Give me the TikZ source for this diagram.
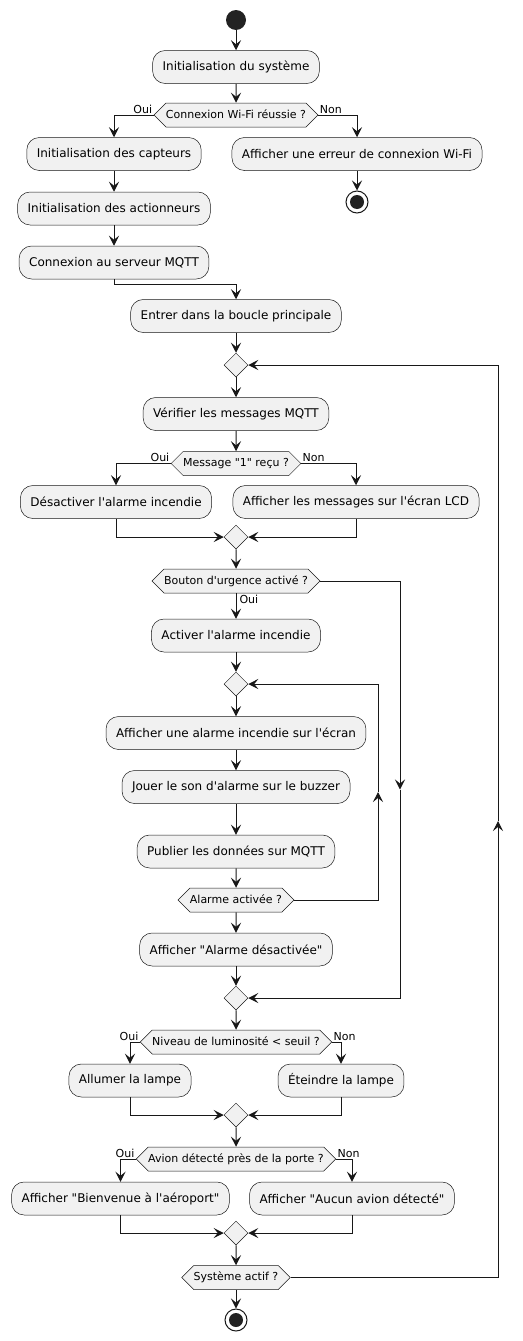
\documentclass[tikz,border=0pt]{standalone}
\usepackage{fontspec}
\newfontfamily\umlfont{DejaVu Sans}
\usetikzlibrary{calc, shapes.geometric, shapes.symbols, arrows.meta}
\definecolor{linecol}{HTML}{181818}
\definecolor{boxfill}{HTML}{F1F1F1}
\definecolor{dotcol}{HTML}{222222}

\begin{document}
\begin{tikzpicture}[x=1pt, y=-1pt, >={Stealth[length=10pt, width=10pt, inset=4pt]}]

    \tikzstyle{activity}=[rectangle, rounded corners=12.5pt, draw=linecol, line width=0.5pt, fill=boxfill, inner xsep=10pt, minimum height=33pt, font=\umlfont\fontsize{12}{14}\selectfont];
    \tikzstyle{decision}=[signal, signal to=west and east, signal pointer angle=90, draw=linecol, line width=0.5pt, fill=boxfill, inner xsep=0pt, inner ysep=6.5pt, text height=8.5pt, text depth=2.5pt, font=\umlfont\fontsize{11}{13}\selectfont];
    \tikzstyle{merge}=[diamond, draw=linecol, line width=0.5pt, fill=boxfill, minimum width=24pt, minimum height=24pt, inner sep=0pt];
    \tikzstyle{start}=[circle, fill=dotcol, minimum size=20pt, inner sep=0pt];
    \tikzstyle{stop}=[circle, draw=linecol, line width=1pt, fill=white, minimum size=22pt, inner sep=0pt, path picture={\fill[dotcol] (path picture bounding box.center) circle (7pt);}];
    \tikzstyle{guard}=[font=\umlfont\fontsize{11}{13}\selectfont, inner sep=1pt];
    \tikzstyle{flow}=[->, line width=1pt, draw=linecol];

    \useasboundingbox (0,0) rectangle (522,1341);

    % initialisation
    \node[start] (start) at (236,20) {};
    \node[activity] (initsys) at (236,67) {Initialisation du système};
    \node[decision] (wifi) at (236,115) {Connexion Wi-Fi réussie ?};
    \node[activity] (capteurs) at (114,154) {Initialisation des capteurs};
    \node[activity] (erreur) at (357,154) {Afficher une erreur de connexion Wi-Fi};
    \node[stop] (stopwifi) at (357,202) {};
    \node[activity] (actionneurs) at (114,208.5) {Initialisation des actionneurs};
    \node[activity] (mqtt) at (114,262.5) {Connexion au serveur MQTT};
    \node[activity] (boucle) at (236,316) {Entrer dans la boucle principale};

    % boucle principale
    \node[merge] (mloop) at (236,365) {};
    \node[activity] (verif) at (236,414) {Vérifier les messages MQTT};
    \node[decision] (msg) at (236,463.5) {Message "1" reçu ?};
    \node[activity] (desact) at (116,502) {Désactiver l'alarme incendie};
    \node[activity] (lcd) at (356,502) {Afficher les messages sur l'écran LCD};
    \node[merge] (mmsg) at (236,537) {};

    % alarme
    \node[decision] (bouton) at (236,581) {Bouton d'urgence activé ?};
    \node[activity] (activer) at (236,635.5) {Activer l'alarme incendie};
    \node[merge] (malarm) at (236,684) {};
    \node[activity] (ecran) at (236,733) {Afficher une alarme incendie sur l'écran};
    \node[activity] (buzzer) at (236,787) {Jouer le son d'alarme sur le buzzer};
    \node[activity] (publier) at (236,851.5) {Publier les données sur MQTT};
    \node[decision] (alarme) at (236,900) {Alarme activée ?};
    \node[activity] (desactivee) at (236,949.5) {Afficher "Alarme désactivée"};
    \node[merge] (mbouton) at (236,998) {};

    % lampe
    \node[decision] (lum) at (236,1042) {Niveau de luminosité < seuil ?};
    \node[activity] (allumer) at (130,1080.5) {Allumer la lampe};
    \node[activity] (eteindre) at (341,1080.5) {Éteindre la lampe};
    \node[merge] (mlum) at (236,1115) {};

    % avion
    \node[decision] (avion) at (236,1159) {Avion détecté près de la porte ?};
    \node[activity] (bienvenue) at (120.5,1198.5) {Afficher "Bienvenue à l'aéroport"};
    \node[activity] (aucun) at (352,1198.5) {Afficher "Aucun avion détecté"};
    \node[merge] (mavion) at (236,1233) {};
    \node[decision] (actif) at (236,1277.5) {Système actif ?};
    \node[stop] (stop) at (236,1320) {};

    % points des retours
    \coordinate (bmid) at (400,789.5);
    \coordinate (amid) at (378,792);
    \coordinate (lmid) at (498,821);

    \draw[flow] (start) -- (initsys);
    \draw[flow] (initsys) -- (wifi);
    \draw[flow] (wifi.west) -| node[guard, pos=0, anchor=south east] {Oui} (capteurs.north);
    \draw[flow] (wifi.east) -| node[guard, pos=0, anchor=south west] {Non} (erreur.north);
    \draw[flow] (erreur) -- (stopwifi);
    \draw[flow] (capteurs) -- (actionneurs);
    \draw[flow] (actionneurs) -- (mqtt);
    \draw[flow] (mqtt.south) -- ++(0,5) -| (boucle.north);
    \draw[flow] (boucle) -- (mloop);
    \draw[flow] (mloop) -- (verif);
    \draw[flow] (verif) -- (msg);
    \draw[flow] (msg.west) -| node[guard, pos=0, anchor=south east] {Oui} (desact.north);
    \draw[flow] (msg.east) -| node[guard, pos=0, anchor=south west] {Non} (lcd.north);
    \draw[flow] (desact.south) |- (mmsg.west);
    \draw[flow] (lcd.south) |- (mmsg.east);
    \draw[flow] (mmsg) -- (bouton);

    \draw[flow] (bouton.south) -- node[guard, pos=0, anchor=north west, xshift=2pt] {Oui} (activer.north);
    \draw[flow] (bouton.east) -| (bmid);
    \draw[flow] (bmid) |- (mbouton.east);
    \draw[flow] (activer) -- (malarm);
    \draw[flow] (malarm) -- (ecran);
    \draw[flow] (ecran) -- (buzzer);
    \draw[flow] (buzzer) -- (publier);
    \draw[flow] (publier) -- (alarme);
    \draw[flow] (alarme.east) -| (amid);
    \draw[flow] (amid) |- (malarm.east);
    \draw[flow] (alarme) -- (desactivee);
    \draw[flow] (desactivee) -- (mbouton);
    \draw[flow] (mbouton) -- (lum);

    \draw[flow] (lum.west) -| node[guard, pos=0, anchor=south east] {Oui} (allumer.north);
    \draw[flow] (lum.east) -| node[guard, pos=0, anchor=south west] {Non} (eteindre.north);
    \draw[flow] (allumer.south) |- (mlum.west);
    \draw[flow] (eteindre.south) |- (mlum.east);
    \draw[flow] (mlum) -- (avion);

    \draw[flow] (avion.west) -| node[guard, pos=0, anchor=south east] {Oui} (bienvenue.north);
    \draw[flow] (avion.east) -| node[guard, pos=0, anchor=south west] {Non} (aucun.north);
    \draw[flow] (bienvenue.south) |- (mavion.west);
    \draw[flow] (aucun.south) |- (mavion.east);
    \draw[flow] (mavion) -- (actif);
    \draw[flow] (actif.east) -| (lmid);
    \draw[flow] (lmid) |- (mloop.east);
    \draw[flow] (actif) -- (stop);

\end{tikzpicture}
\end{document}
